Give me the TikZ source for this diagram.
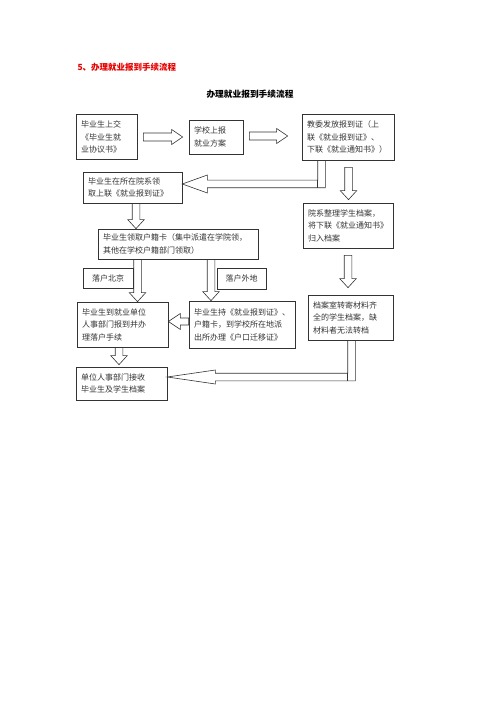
\documentclass[tikz,border=0pt]{standalone}
\usepackage{fontspec}
\setmainfont{Noto Sans CJK SC}
\usetikzlibrary{positioning, calc}

% block arrows (hollow), #1 start, #2 tip
\newcommand{\blkdown}[2]{%
  \coordinate (bs) at (#1); \coordinate (bt) at (#2);
  \draw[blk] ($(bs)+(-3.8,0)$) -- ($(bt)+(-3.8,-9)$) -- ($(bt)+(-8.2,-9)$) -- (bt)
    -- ($(bt)+(8.2,-9)$) -- ($(bt)+(3.8,-9)$) -- ($(bs)+(3.8,0)$) -- cycle;}
\newcommand{\blkleft}[2]{%
  \coordinate (bs) at (#1); \coordinate (bt) at (#2);
  \draw[blk] ($(bs)+(0,-3.5)$) -- ($(bt)+(12,-3.5)$) -- ($(bt)+(12,-8)$) -- (bt)
    -- ($(bt)+(12,8)$) -- ($(bt)+(12,3.5)$) -- ($(bs)+(0,3.5)$) -- cycle;}
\newcommand{\blkright}[2]{%
  \coordinate (bs) at (#1); \coordinate (bt) at (#2);
  \draw[blk] ($(bs)+(0,-4)$) -- ($(bt)+(-11,-4)$) -- ($(bt)+(-11,-7.5)$) -- (bt)
    -- ($(bt)+(-11,7.5)$) -- ($(bt)+(-11,4)$) -- ($(bs)+(0,4)$) -- cycle;}
% #3 head length, #4 head half height
\newcommand{\blkelbow}[4]{%
  \coordinate (bs) at (#1); \coordinate (bt) at (#2); \coordinate (bc) at (bs |- bt);
  \draw[blk] ($(bs)+(-3.8,0)$) -- ($(bc)+(-3.8,-3.8)$) -- ($(bt)+(#3,-3.8)$) -- ($(bt)+(#3,-#4)$) -- (bt)
    -- ($(bt)+(#3,#4)$) -- ($(bt)+(#3,3.8)$) -- ($(bc)+(3.8,3.8)$) -- ($(bs)+(3.8,0)$);
  \draw[blk] ($(bc)+(-3.8,-3.8)$) -- ($(bc)+(-3.8,3.8)$);}

\begin{document}
\begin{tikzpicture}[x=1pt, y=-1pt,
  box/.style={draw=black!80, line width=0.7pt, align=left, inner xsep=5pt, inner ysep=2pt,
    text=black!80, font=\fontsize{8}{12.5}\selectfont},
  tag/.style={draw=black!80, line width=0.7pt, align=center, inner sep=2pt,
    text=black!80, font=\fontsize{8}{10}\selectfont},
  blk/.style={draw=black!80, line width=0.6pt, line join=miter}]
  \useasboundingbox (0,0) rectangle (500,708);

  % Headings
  \node[anchor=west, text=red!90!black, font=\bfseries\fontsize{8.5}{10}\selectfont] (head) at (74,67)
    {5、办理就业报到手续流程};
  \node[font=\bfseries\fontsize{8.7}{10}\selectfont] (title) at (250,94) {办理就业报到手续流程};

  % First row
  \node[box, text width=51pt, minimum height=45pt] (submit) at (106.5,137)
    {毕业生上交\\《毕业生就\\业协议书》};
  \node[box, text width=44pt, minimum height=34pt] (report) at (216,137)
    {学校上报\\就业方案};
  \node[box, text width=82pt, minimum height=46pt] (issue) at (348,137)
    {教委发放报到证（上\\联《就业报到证》、\\下联《就业通知书》）};

  % Second row
  \node[box, text width=89pt, minimum height=31pt] (upper) at (132.5,187.5)
    {毕业生在所在院系领\\取上联《就业报到证》};
  \node[box, text width=80pt, minimum height=45pt] (sort) at (348,225.5)
    {院系整理学生档案，\\将下联《就业通知书》\\归入档案};
  \node[box, text width=150pt, minimum height=30pt] (card) at (178,244)
    {毕业生领取户籍卡（集中派遣在学院领，\\其他在学校户籍部门领取）};

  % Branch labels
  \node[tag, minimum width=50pt, minimum height=20pt] (bj) at (108,278) {落户北京};
  \node[tag, minimum width=49pt, minimum height=21pt] (wd) at (241.5,278.5) {落户外地};

  % Third row
  \node[box, text width=81pt, minimum height=45pt] (unit) at (122.5,324.5)
    {毕业生到就业单位\\人事部门报到并办\\理落户手续};
  \node[box, text width=96pt, minimum height=47pt] (hold) at (242,324.5)
    {毕业生持《就业报到证》、\\户籍卡，到学校所在地派\\出所办理《户口迁移证》};
  \node[box, text width=75pt, minimum height=45pt] (room) at (350.5,317.5)
    {档案室转寄材料齐\\全的学生档案，缺\\材料者无法转档};

  % Last row
  \node[box, text width=81pt, minimum height=33pt] (recv) at (121.5,383.5)
    {单位人事部门接收\\毕业生及学生档案};

  % Arrows
  \blkright{$(submit.east)+(6,0)$}{$(report.west)+(-6,0)$}
  \blkright{$(report.east)+(6,-1)$}{$(issue.west)+(-14,-1)$}
  \blkelbow{$(issue.south)+(-26.5,0)$}{$(upper.east)+(0,-3.5)$}{25}{9}
  \blkdown{$(issue.south)+(0.5,7)$}{$(sort.north)+(0.5,-3)$}
  \blkdown{$(upper.south)+(3.5,0)$}{$(upper.south |- card.north)+(3.5,0)$}
  \blkdown{$(card.south -| unit.north)+(15,0)$}{$(unit.north)+(15,0)$}
  \blkdown{$(card.south -| hold.north)+(-31,0)$}{$(hold.north)+(-31,0)$}
  \blkdown{$(sort.south)+(0,7)$}{$(sort.south |- room.north)+(0,-7)$}
  \blkleft{$(hold.west)+(0,-3)$}{$(hold.west -| unit.east)+(0,-3)$}
  \blkdown{$(unit.south)+(-3.5,0)$}{$(unit.south |- recv.north)+(-3.5,-2)$}
  \blkelbow{$(room.south)+(1,0)$}{$(recv.east)+(0,-6.5)$}{48}{7}
\end{tikzpicture}
\end{document}
